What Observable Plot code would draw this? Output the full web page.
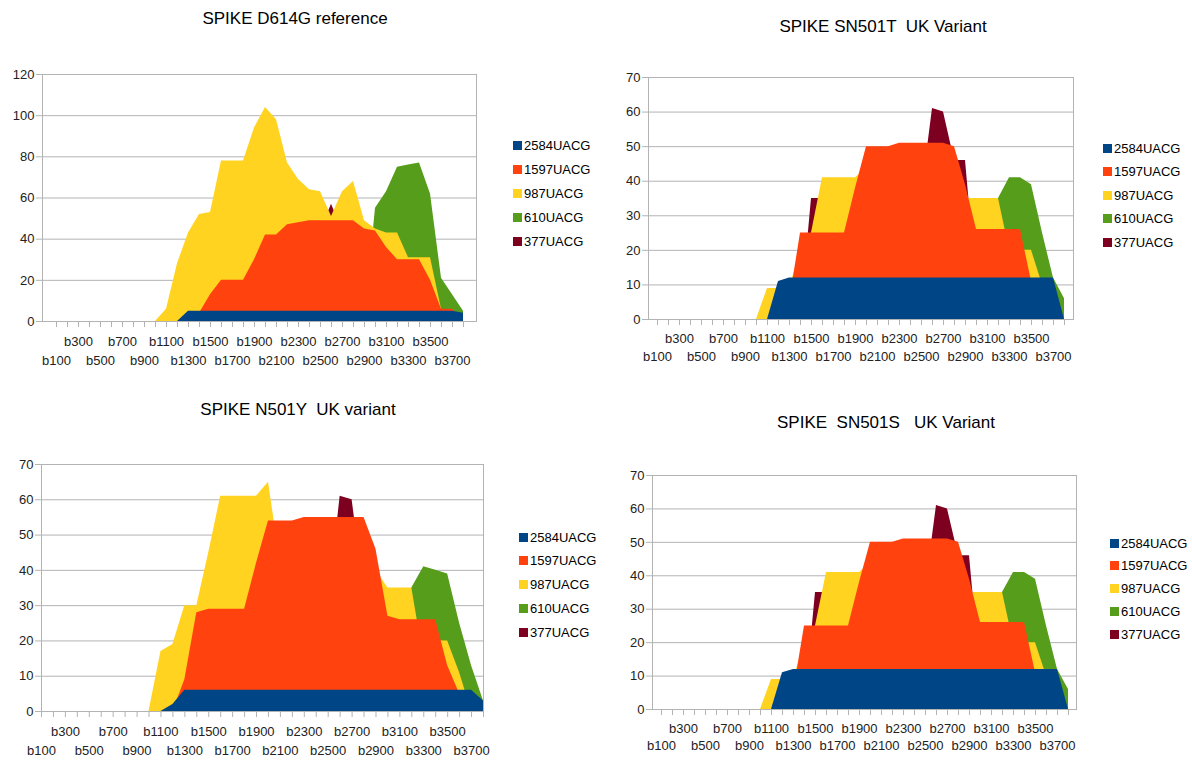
<!DOCTYPE html>
<html><head><meta charset="utf-8">
<script src="https://cdn.jsdelivr.net/npm/d3@7"></script>
<script src="https://cdn.jsdelivr.net/npm/@observablehq/plot@0.6"></script>
<style>
body{margin:0;background:#fff;font-family:"Liberation Sans",Arial,sans-serif;}
#wrap{position:relative;width:1192px;height:760px;overflow:hidden;background:#fff;}
.title{position:absolute;width:400px;text-align:center;font-size:17px;line-height:20px;white-space:pre;color:#000;}
.panel{position:absolute;}
.legend{position:absolute;font-size:13px;color:#000;}
.legend .row{position:absolute;left:0;display:flex;align-items:center;white-space:nowrap;height:16px;}
.legend .sw{width:9px;height:9px;margin-right:2px;}
</style></head><body><div id="wrap"></div><script>
// categories (x axis)
const cats = ["b100","b200","b300","b400","b500","b600","b700","b800","b900","b1000",
  "b1100","b1200","b1300","b1400","b1500","b1600","b1700","b1800","b1900","b2000",
  "b2100","b2200","b2300","b2400","b2500","b2600","b2700","b2800","b2900","b3000",
  "b3100","b3200","b3300","b3400","b3500","b3600","b3700","b3800"];
const labelsTopRow = ["b300","b700","b1100","b1500","b1900","b2300","b2700","b3100","b3500"];
const labelsBottomRow = ["b100","b500","b900","b1300","b1700","b2100","b2500","b2900","b3300","b3700"];

const seriesNames = ["2584UACG","1597UACG","987UACG","610UACG","377UACG"];
const seriesColors = ["#004586","#ff420e","#ffd320","#579d1c","#7e0021"];

// Panel 1: SPIKE D614G reference
const ref2584 = [0,0,0,0,0,0,0,0,0,0, 0,0,5,5,5,5,5,5,5,5, 5,5,5,5,5,5,5,5,5,5, 5,5,5,5,5,5,5,4];
const ref1597 = [0,0,0,0,0,0,0,0,0,0, 0,0,0,4,13,20,20,20,30,42, 42,47,48,49,49,49,49,49,45,44, 36,30,30,30,20,6,6,0];
const ref987  = [0,0,0,0,0,0,0,0,0,0, 6,28,43,52,53,78,78,78,94,104, 98,77,69,64,63,51,63,68,49,45, 43,43,31,31,31,6,5,0];
const ref610  = [0,0,0,0,0,0,0,0,0,0, 0,0,0,0,0,0,0,0,0,0, 0,0,0,0,0,0,0,0,0,55, 63,75,76,77,62,21,13,5];
const ref377  = [0,0,0,0,0,0,0,0,0,0, 0,0,0,0,0,0,0,0,0,0, 0,0,0,0,44,57,44,0,0,0, 0,0,0,0,0,0,0,0];

// Panel 2: SPIKE SN501T UK Variant
const t2584 = [0,0,0,0,0,0,0,0,0,0, 0,11,12,12,12,12,12,12,12,12, 12,12,12,12,12,12,12,12,12,12, 12,12,12,12,12,12,12,0];
const t1597 = [0,0,0,0,0,0,0,0,0,0, 0,0,5,25,25,25,25,25,38,50, 50,50,51,51,51,51,51,50,39,26, 26,26,26,26,11,0,0,0];
const t987  = [0,0,0,0,0,0,0,0,0,0, 9,9,9,20,25,41,41,41,41,44, 45,45,45,45,45,45,45,45,35,35, 35,35,20,20,20,10,0,0];
const t610  = [0,0,0,0,0,0,0,0,0,0, 0,0,0,0,0,0,0,0,0,0, 0,0,0,0,0,0,0,0,0,0, 20,35,41,41,39,25,12,6];
const t377  = [0,0,0,0,0,0,0,0,0,0, 0,0,0,0,35,35,0,0,0,0, 0,0,0,0,36,61,60,46,46,10, 0,0,0,0,0,0,0,0];

// Panel 3: SPIKE N501Y UK variant
const y2584 = [0,0,0,0,0,0,0,0,0,0, 0,2,6,6,6,6,6,6,6,6, 6,6,6,6,6,6,6,6,6,6, 6,6,6,6,6,6,6,3];
const y1597 = [0,0,0,0,0,0,0,0,0,0, 0,0,9,28,29,29,29,29,42,54, 54,54,55,55,55,55,55,55,46,27, 26,26,26,26,13,5,0,0];
const y987  = [0,0,0,0,0,0,0,0,0,0, 17,19,30,30,45,61,61,61,61,65, 42,48,50,50,50,50,50,50,40,35, 35,35,15,20,20,11,0,0];
const y610  = [0,0,0,0,0,0,0,0,0,0, 0,0,0,0,0,0,0,0,0,0, 0,0,0,0,0,0,0,0,0,0, 20,35,41,40,39,25,13,3];
const y377  = [0,0,0,0,0,0,0,0,0,0, 0,0,0,0,0,0,0,0,0,0, 0,0,0,0,30,61,60,34,0,0, 0,0,0,0,0,0,0,0];

// Panel 4: SPIKE SN501S UK Variant
const s2584 = [0,0,0,0,0,0,0,0,0,0, 0,11,12,12,12,12,12,12,12,12, 12,12,12,12,12,12,12,12,12,12, 12,12,12,12,12,12,12,0];
const s1597 = [0,0,0,0,0,0,0,0,0,0, 0,0,5,25,25,25,25,25,38,50, 50,50,51,51,51,51,51,50,39,26, 26,26,26,26,11,0,0,0];
const s987  = [0,0,0,0,0,0,0,0,0,0, 9,9,9,20,25,41,41,41,41,44, 45,45,45,45,45,45,45,45,35,35, 35,35,20,20,20,10,0,0];
const s610  = [0,0,0,0,0,0,0,0,0,0, 0,0,0,0,0,0,0,0,0,0, 0,0,0,0,0,0,0,0,0,0, 20,35,41,41,39,25,12,6];
const s377  = [0,0,0,0,0,0,0,0,0,0, 0,0,0,0,35,35,0,0,0,0, 0,0,0,0,36,61,60,46,46,10, 0,0,0,0,0,0,0,0];

const panels = [
  {title:"SPIKE D614G reference", tx:295, ty:19, left:0, top:60, width:500, height:312,
   ml:42, mr:24, mt:14, mb:51, ymax:120, ystep:20, padTop:15, padBot:34,
   series:[ref2584,ref1597,ref987,ref610,ref377], legX:513, legY:145, legStep:24},
  {title:"SPIKE SN501T  UK Variant", tx:883, ty:27, left:600, top:60, width:500, height:312,
   ml:48, mr:27, mt:17, mb:53, ymax:70, ystep:10, padTop:14, padBot:32,
   series:[t2584,t1597,t987,t610,t377], legX:1103, legY:148, legStep:23.5},
  {title:"SPIKE N501Y  UK variant", tx:298, ty:410, left:0, top:450, width:500, height:310,
   ml:41, mr:17, mt:14, mb:49, ymax:70, ystep:10, padTop:15, padBot:34,
   series:[y2584,y1597,y987,y610,y377], legX:519, legY:537, legStep:23.75},
  {title:"SPIKE  SN501S   UK Variant", tx:886, ty:423, left:600, top:460, width:500, height:300,
   ml:52, mr:24, mt:15, mb:51, ymax:70, ystep:10, padTop:14, padBot:31,
   series:[s2584,s1597,s987,s610,s377], legX:1110, legY:543, legStep:22.75}
];

const wrap = document.getElementById("wrap");
const grey = "#b3b3b3";

for (const p of panels) {
  const t = document.createElement("div");
  t.className = "title";
  t.textContent = p.title;
  t.style.left = (p.tx - 200) + "px";
  t.style.top = (p.ty - 10) + "px";
  wrap.appendChild(t);

  const rows = [];
  p.series.forEach((arr, si) => arr.forEach((v, i) => rows.push({cat: cats[i], series: seriesNames[si], value: v})));
  const yticks = d3.range(0, p.ymax + 0.001, p.ystep);

  // drawing order: back (377) to front (2584)
  const areas = seriesNames.slice().reverse().map(name =>
    Plot.areaY(rows.filter(r => r.series === name), {x: "cat", y: "value", fill: seriesColors[seriesNames.indexOf(name)]}));

  const svg = Plot.plot({
    width: p.width, height: p.height,
    marginLeft: p.ml, marginRight: p.mr, marginTop: p.mt, marginBottom: p.mb,
    style: {fontSize: "13px", fontFamily: "'Liberation Sans', Arial, sans-serif", background: "transparent", color: "#222"},
    x: {type: "point", domain: cats, padding: 0, label: null},
    y: {domain: [0, p.ymax], label: null},
    marks: [
      Plot.gridY(yticks, {stroke: grey, strokeOpacity: 1}),
      Plot.frame({stroke: grey}),
      ...areas,
      Plot.axisY({ticks: yticks, tickSize: 6, tickFormat: () => "", stroke: grey, strokeOpacity: 1, label: null}),
      Plot.axisY({ticks: yticks, tickSize: 0, tickPadding: 8, fill: "#222", label: null}),
      Plot.axisX({ticks: cats, tickSize: 6, tickFormat: () => "", stroke: grey, strokeOpacity: 1, label: null}),
      Plot.axisX({ticks: labelsTopRow, tickSize: 0, tickPadding: p.padTop, fill: "#222", label: null}),
      Plot.axisX({ticks: labelsBottomRow, tickSize: 0, tickPadding: p.padBot, fill: "#222", label: null})
    ]
  });
  svg.classList.add("panel");
  svg.style.left = p.left + "px";
  svg.style.top = p.top + "px";
  wrap.appendChild(svg);

  const lg = document.createElement("div");
  lg.className = "legend";
  lg.style.left = p.legX + "px";
  lg.style.top = (p.legY - 8) + "px";
  seriesNames.forEach((n, i) => {
    const r = document.createElement("div");
    r.className = "row";
    r.style.top = (i * p.legStep) + "px";
    const sw = document.createElement("span");
    sw.className = "sw";
    sw.style.background = seriesColors[i];
    const tx = document.createElement("span");
    tx.textContent = n;
    r.appendChild(sw); r.appendChild(tx);
    lg.appendChild(r);
  });
  wrap.appendChild(lg);
}
</script></body></html>
